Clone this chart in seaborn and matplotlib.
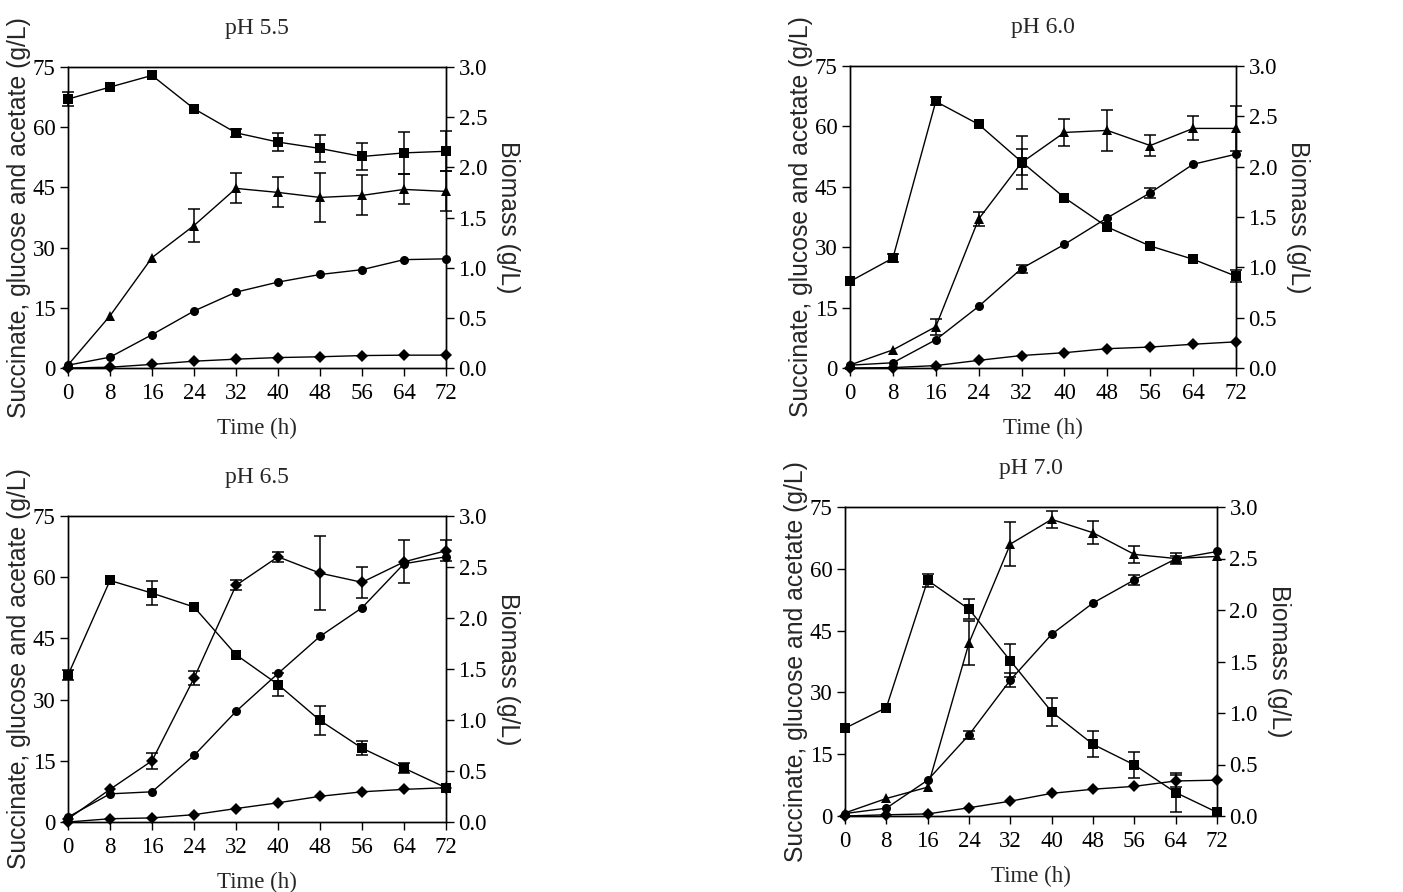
import matplotlib
matplotlib.use("Agg")
import matplotlib.pyplot as plt
import seaborn as sns
import pandas as pd

sns.set_style("ticks")
plt.rcParams["font.family"] = ["Liberation Serif", "DejaVu Serif"]
plt.rcParams["axes.linewidth"] = 1.0

time_h = [0, 8, 16, 24, 32, 40, 48, 56, 64, 72]
panel_titles = ["pH 5.5", "pH 6.0", "pH 6.5", "pH 7.0"]

# glucose (g/L)
glucose_55 = [67.0, 70.0, 72.9, 64.6, 58.6, 56.3, 54.7, 52.7, 53.6, 54.0]
glucose_60 = [21.5, 27.3, 66.2, 60.5, 51.2, 42.3, 35.0, 30.3, 27.0, 22.8]
glucose_65 = [36.0, 59.2, 56.1, 52.7, 41.0, 33.7, 24.9, 18.1, 13.2, 8.4]
glucose_70 = [21.3, 26.3, 57.2, 50.2, 37.7, 25.3, 17.4, 12.4, 5.7, 0.9]
glucose_err_55 = [1.7, 0, 0, 0, 1.0, 2.2, 3.3, 3.3, 5.2, 5.0]
glucose_err_60 = [0, 1.0, 1.0, 0, 3.3, 0, 0, 0, 0, 1.5]
glucose_err_65 = [1.3, 0, 3.0, 0, 0, 2.8, 3.5, 1.7, 1.2, 0]
glucose_err_70 = [0, 0, 1.5, 2.4, 4.0, 3.4, 3.2, 3.2, 4.8, 0]

# succinate (g/L)
succinate_55 = [0.7, 2.7, 8.3, 14.2, 18.9, 21.4, 23.3, 24.5, 27.0, 27.2]
succinate_60 = [0.7, 1.3, 7.0, 15.3, 24.7, 30.7, 37.3, 43.5, 50.6, 53.1]
succinate_65 = [1.2, 6.9, 7.4, 16.3, 27.1, 36.4, 45.5, 52.5, 63.3, 65.0]
succinate_70 = [0.6, 1.9, 8.7, 19.7, 33.0, 44.1, 51.7, 57.3, 62.4, 64.2]
succinate_err_55 = [0, 0, 0, 0, 0, 0, 0, 0, 0, 0]
succinate_err_60 = [0, 0, 0, 0, 1.0, 0, 0, 1.2, 0, 0]
succinate_err_65 = [0, 0, 0, 0, 0, 0, 0, 0, 0, 0]
succinate_err_70 = [0, 0, 0, 1.0, 1.7, 0, 0, 1.2, 0.8, 0]

# acetate (g/L)
acetate_55 = [0.0, 0.2, 0.9, 1.7, 2.2, 2.6, 2.8, 3.1, 3.2, 3.2]
acetate_60 = [0.0, 0.1, 0.6, 1.9, 3.1, 3.8, 4.8, 5.2, 5.9, 6.5]
acetate_65 = [0.0, 0.8, 1.0, 1.8, 3.3, 4.7, 6.3, 7.4, 8.0, 8.4]
acetate_70 = [0.0, 0.3, 0.5, 2.0, 3.6, 5.5, 6.5, 7.2, 8.5, 8.7]
acetate_err_70 = [0, 0, 0, 0, 0, 0, 0, 0, 1.5, 0]

# biomass (g/L, right axis)
biomass_55 = [0.03, 0.52, 1.10, 1.42, 1.79, 1.75, 1.70, 1.72, 1.78, 1.76]
biomass_60 = [0.03, 0.18, 0.41, 1.48, 2.04, 2.34, 2.36, 2.21, 2.38, 2.38]
biomass_65 = [0.03, 0.32, 0.60, 1.41, 2.32, 2.60, 2.44, 2.35, 2.55, 2.66]
biomass_70 = [0.03, 0.17, 0.28, 1.68, 2.64, 2.88, 2.75, 2.54, 2.50, 2.52]
biomass_err_55 = [0, 0, 0, 0.16, 0.15, 0.15, 0.245, 0.2, 0.15, 0.2]
biomass_err_60 = [0, 0, 0.08, 0.07, 0.26, 0.13, 0.2, 0.1, 0.12, 0.22]
biomass_err_65 = [0, 0, 0.08, 0.07, 0.05, 0.05, 0.36, 0.15, 0.21, 0.1]
biomass_err_70 = [0, 0, 0, 0.21, 0.21, 0.08, 0.11, 0.08, 0.05, 0]

zeros = [0] * len(time_h)

FIG_W, FIG_H = 1403, 892

# axes boxes in pixels: left, top, right, bottom
panels = [
    dict(title=panel_titles[0], glc=glucose_55, glc_e=glucose_err_55, suc=succinate_55,
         suc_e=succinate_err_55, ace=acetate_55, ace_e=zeros, bio=biomass_55,
         bio_e=biomass_err_55, bio_marker="^", box=(68, 67, 446, 368)),
    dict(title=panel_titles[1], glc=glucose_60, glc_e=glucose_err_60, suc=succinate_60,
         suc_e=succinate_err_60, ace=acetate_60, ace_e=zeros, bio=biomass_60,
         bio_e=biomass_err_60, bio_marker="^", box=(850, 66, 1236, 368)),
    dict(title=panel_titles[2], glc=glucose_65, glc_e=glucose_err_65, suc=succinate_65,
         suc_e=succinate_err_65, ace=acetate_65, ace_e=zeros, bio=biomass_65,
         bio_e=biomass_err_65, bio_marker="D", box=(68, 516, 446, 822)),
    dict(title=panel_titles[3], glc=glucose_70, glc_e=glucose_err_70, suc=succinate_70,
         suc_e=succinate_err_70, ace=acetate_70, ace_e=acetate_err_70, bio=biomass_70,
         bio_e=biomass_err_70, bio_marker="^", box=(845, 507, 1217, 816)),
]

fig = plt.figure(figsize=(FIG_W / 100, FIG_H / 100), dpi=100)
sans = ["Liberation Sans", "DejaVu Sans"]
TICK_FS = 16.5


def draw_series(ax, y, err, marker, ms):
    df = pd.DataFrame({"t": time_h, "v": y})
    sns.lineplot(data=df, x="t", y="v", ax=ax, color="black", linewidth=1.0,
                 marker=marker, markersize=ms, markeredgewidth=0, clip_on=False)
    ts = [t for t, e in zip(time_h, err) if e > 0]
    vs = [v for v, e in zip(y, err) if e > 0]
    es = [e for e in err if e > 0]
    if es:
        ax.errorbar(ts, vs, yerr=es, fmt="none", ecolor="black", elinewidth=1.1,
                    capsize=4, capthick=1.1, clip_on=False)


for p in panels:
    l, t, r, b = p["box"]
    w_px, h_px = r - l, b - t
    ax = fig.add_axes([l / FIG_W, 1 - b / FIG_H, w_px / FIG_W, h_px / FIG_H])
    ax2 = ax.twinx()

    draw_series(ax, p["glc"], p["glc_e"], "s", 6.5)
    draw_series(ax, p["suc"], p["suc_e"], "o", 6.5)
    draw_series(ax, p["ace"], p["ace_e"], "D", 6.0)
    draw_series(ax2, p["bio"], p["bio_e"], p["bio_marker"],
                6.0 if p["bio_marker"] == "D" else 7.0)

    ax.set_xlim(0, 72)
    ax.set_ylim(0, 75)
    ax2.set_ylim(0, 3.0)
    ax.set_xticks(time_h)
    ax.set_yticks([0, 15, 30, 45, 60, 75])
    ax2.set_yticks([0.0, 0.5, 1.0, 1.5, 2.0, 2.5, 3.0])
    ax2.set_yticklabels([f"{v:.1f}" for v in [0.0, 0.5, 1.0, 1.5, 2.0, 2.5, 3.0]])

    for a in (ax, ax2):
        a.tick_params(axis="both", direction="out", length=6, width=1.0,
                      labelsize=TICK_FS, pad=3, colors="black")
        a.tick_params(axis="x", pad=5)
        for s in a.spines.values():
            s.set_visible(True)
            s.set_color("black")
            s.set_linewidth(1.0)

    ax.set_xlabel("Time (h)", fontsize=16.5)
    ax.xaxis.set_label_coords(0.5, -50 / h_px)
    ax.set_ylabel("Succinate, glucose and acetate (g/L)", fontsize=17.8, family=sans)
    ax.yaxis.set_label_coords(-37 / w_px, 0.5)
    ax2.set_ylabel("Biomass (g/L)", fontsize=17.8, family=sans, rotation=270,
                   va="center")
    ax2.yaxis.set_label_coords(1 + 62 / w_px, 0.5)
    ax.set_title(p["title"], fontsize=17, pad=24)

fig.savefig("out.png", dpi=100)
